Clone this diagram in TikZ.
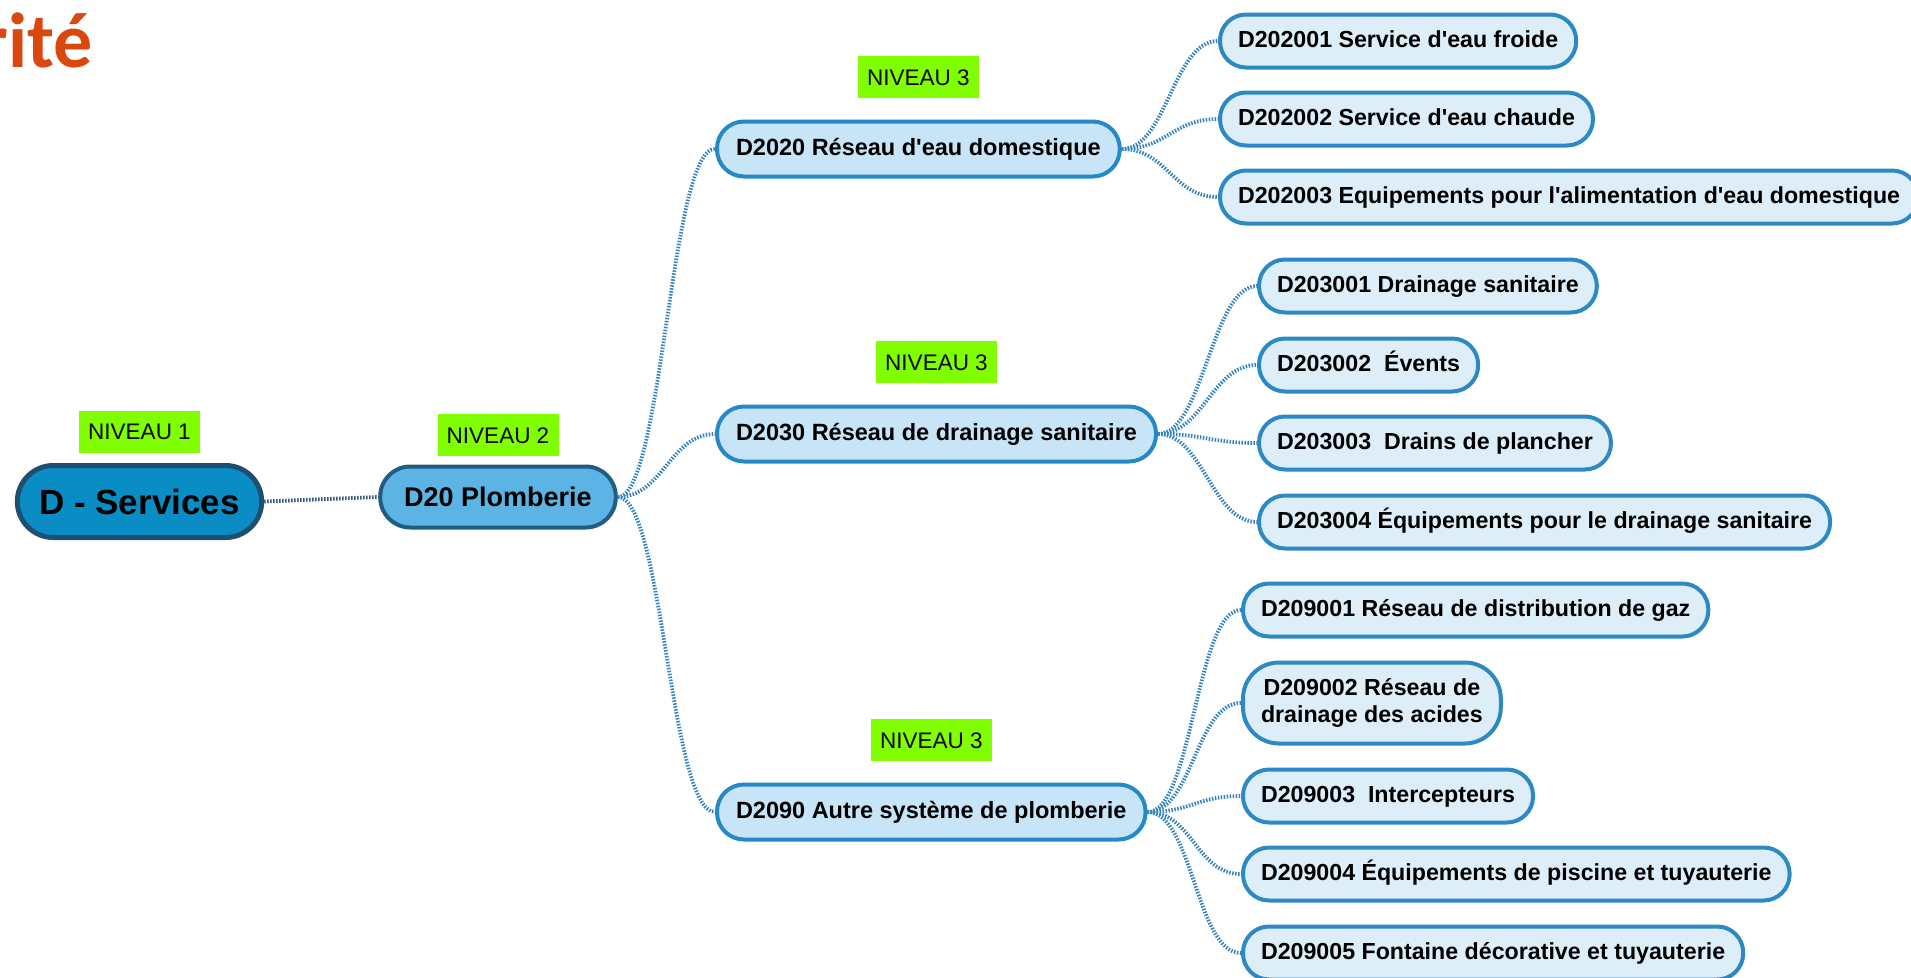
\documentclass[tikz,border=0pt]{standalone}
\usepackage{fontspec}
\setmainfont{Liberation Sans}[Ligatures=TeXOff]
\newfontfamily\titrefont{Carlito}
\usetikzlibrary{positioning}

\definecolor{fondun}{HTML}{0A8DC4}
\definecolor{bordun}{HTML}{1E4F70}
\definecolor{fonddeux}{HTML}{5CB4E4}
\definecolor{borddeux}{HTML}{215C82}
\definecolor{fondtrois}{HTML}{C7E5F7}
\definecolor{bordtrois}{HTML}{2589C7}
\definecolor{fondquatre}{HTML}{DDEEF9}
\definecolor{bordquatre}{HTML}{2C89C4}
\definecolor{vertniveau}{HTML}{80FF00}
\definecolor{lienfonce}{HTML}{34587E}
\definecolor{lienclair}{HTML}{3283C0}
\definecolor{orangetitre}{HTML}{DA4810}

\begin{document}
\begin{tikzpicture}[x=1pt,y=-1pt,
  lvlone/.style={draw=bordun,line width=5pt,fill=fondun,rounded corners=36pt,
    minimum height=72pt,inner xsep=22pt,font=\bfseries\fontsize{35}{40}\selectfont},
  lvltwo/.style={draw=borddeux,line width=4pt,fill=fonddeux,rounded corners=30pt,
    minimum height=61pt,inner xsep=24pt,font=\bfseries\fontsize{27}{31}\selectfont},
  lvlthree/.style={draw=bordtrois,line width=4pt,fill=fondtrois,rounded corners=27pt,
    minimum height=55pt,inner xsep=19pt,text height=17pt,text depth=5pt,anchor=west,
    font=\bfseries\fontsize{23.5}{27}\selectfont},
  lvlfour/.style={draw=bordquatre,line width=4pt,fill=fondquatre,rounded corners=26pt,
    minimum height=53pt,inner xsep=18pt,text height=17pt,text depth=5pt,anchor=west,
    font=\bfseries\fontsize{23.2}{27}\selectfont},
  niveau/.style={fill=vertniveau,minimum width=121pt,minimum height=42pt,inner sep=0pt,
    font=\fontsize{22.5}{26}\selectfont},
  lien/.style={draw=lienclair,line width=3.8pt,dash pattern=on 1.5pt off 1.5pt},
  lienbase/.style={draw=lienfonce,line width=3.8pt,dash pattern=on 1.5pt off 1.5pt}]
  \useasboundingbox (0,0) rectangle (1911,977);

  % Title fragment, cut by the left edge
  \node[anchor=base east,inner sep=0pt,text=orangetitre,
    font=\titrefont\bfseries\fontsize{78}{80}\selectfont] (titre) at (93,67) {rité};

  % Levels 1 and 2
  \node[lvlone] (nd) at (139.5,501.5) {D - Services};
  \node[lvltwo] (n20) at (498,497) {D20 Plomberie};
  \node[niveau,above=10pt of nd] (niv1) {NIVEAU 1};
  \node[niveau,above=8pt of n20] (niv2) {NIVEAU 2};
  \draw[lienbase] (nd.east) -- (n20.west);

  % Level 3
  \foreach \code/\yy/\txt in {2020/149/{Réseau d'eau domestique},
      2030/434/{Réseau de drainage sanitaire},2090/812/{Autre système de plomberie}} {
    \node[lvlthree] (n\code) at (715,\yy) {D\code\ \txt};
    \node[niveau,above=21pt of n\code] (niv\code) {NIVEAU 3};
    \draw[lien] (n20.east) .. controls +(45,0) and +(-45,0) .. (n\code.west);
  }

  % Level 4 under D2020
  \foreach \code/\yy/\txt in {202001/41/{Service d'eau froide},
      202002/119/{Service d'eau chaude},
      202003/197/{Equipements pour l'alimentation d'eau domestique}} {
    \node[lvlfour] (n\code) at (1218,\yy) {D\code\ \txt};
    \draw[lien] (n2020.east) .. controls +(45,0) and +(-45,0) .. (n\code.west);
  }

  % Level 4 under D2030
  \foreach \code/\yy/\txt in {203001/286/{Drainage sanitaire},203002/365/{\ Évents},
      203003/443/{\ Drains de plancher},
      203004/522/{Équipements pour le drainage sanitaire}} {
    \node[lvlfour] (n\code) at (1257,\yy) {D\code\ \txt};
    \draw[lien] (n2030.east) .. controls +(45,0) and +(-45,0) .. (n\code.west);
  }

  % Level 4 under D2090
  \foreach \code/\yy/\txt in {209001/610/{Réseau de distribution de gaz},
      209003/796/{\ Intercepteurs},
      209004/874/{Équipements de piscine et tuyauterie},
      209005/953/{Fontaine décorative et tuyauterie}} {
    \node[lvlfour] (n\code) at (1241,\yy) {D\code\ \txt};
    \draw[lien] (n2090.east) .. controls +(45,0) and +(-45,0) .. (n\code.west);
  }
  \node[lvlfour,align=center,text height=44pt,text depth=5pt,minimum height=81pt,
    rounded corners=36pt] (n209002) at (1241,703) {D209002 Réseau de\\drainage des acides};
  \draw[lien] (n2090.east) .. controls +(45,0) and +(-45,0) .. (n209002.west);
\end{tikzpicture}
\end{document}
